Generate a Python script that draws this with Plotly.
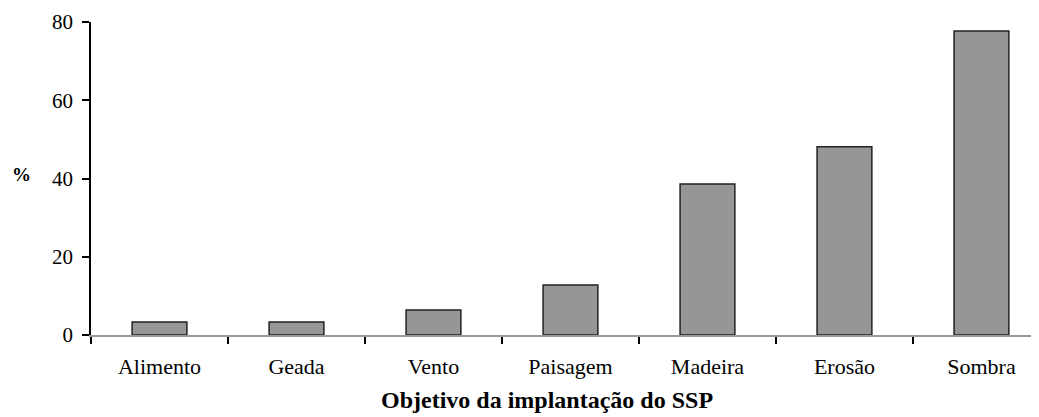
import plotly.graph_objects as go

categories = ["Alimento", "Geada", "Vento", "Paisagem", "Madeira", "Erosão", "Sombra"]
values = [3.3, 3.3, 6.4, 12.8, 38.6, 48.1, 77.7]
y_ticks = [0, 20, 40, 60, 80]

fig = go.Figure()
fig.add_trace(go.Bar(
    x=categories, y=values, width=0.4,
    marker=dict(color="#969696", line=dict(color="#222222", width=1.5)),
))

# page body has an 8px margin; compensate so the plot lands where the reference has it
OFF = 8
L, T, B, R = 91 - OFF, 22 - OFF, 90, OFF
W, H = 1039, 417

font = "Liberation Serif, Times New Roman, serif"
fig.update_layout(
    width=W, height=H,
    margin=dict(l=L, r=R, t=T, b=B),
    plot_bgcolor="white", paper_bgcolor="white",
    showlegend=False,
    font=dict(family=font, size=16, color="black"),
    xaxis=dict(
        range=[-0.5, 6.42], tickson="boundaries", ticks="outside", ticklen=7,
        tickcolor="black", tickwidth=1.5, automargin=False,
        showline=True, linecolor="#999999", linewidth=2,
        showgrid=False, zeroline=False, ticklabelstandoff=11,
        tickfont=dict(family=font, size=22),
    ),
    yaxis=dict(
        range=[0, 80], tickvals=y_ticks, ticks="outside", ticklen=7,
        tickcolor="black", tickwidth=1.5, automargin=False,
        showline=True, linecolor="black", linewidth=1.5,
        showgrid=False, zeroline=False, ticklabelstandoff=5,
        tickfont=dict(family=font, size=21),
    ),
    annotations=[
        dict(text="<b>%</b>", x=21, y=174, xref="paper", yref="paper", showarrow=False,
             xanchor="center", yanchor="middle", font=dict(family=font, size=19)),
        dict(text="<b>Objetivo da implantação do SSP</b>", x=547, y=400, xref="paper", yref="paper",
             showarrow=False, xanchor="center", yanchor="middle", font=dict(family=font, size=24)),
    ],
)

# convert screen-pixel annotation positions to paper coordinates
pw = W - L - R
ph = H - T - B
for a in fig.layout.annotations:
    px, py = a.x - OFF, a.y - OFF
    a.x = (px - L) / pw
    a.y = 1 - (py - T) / ph

fig.write_html("out.html")
